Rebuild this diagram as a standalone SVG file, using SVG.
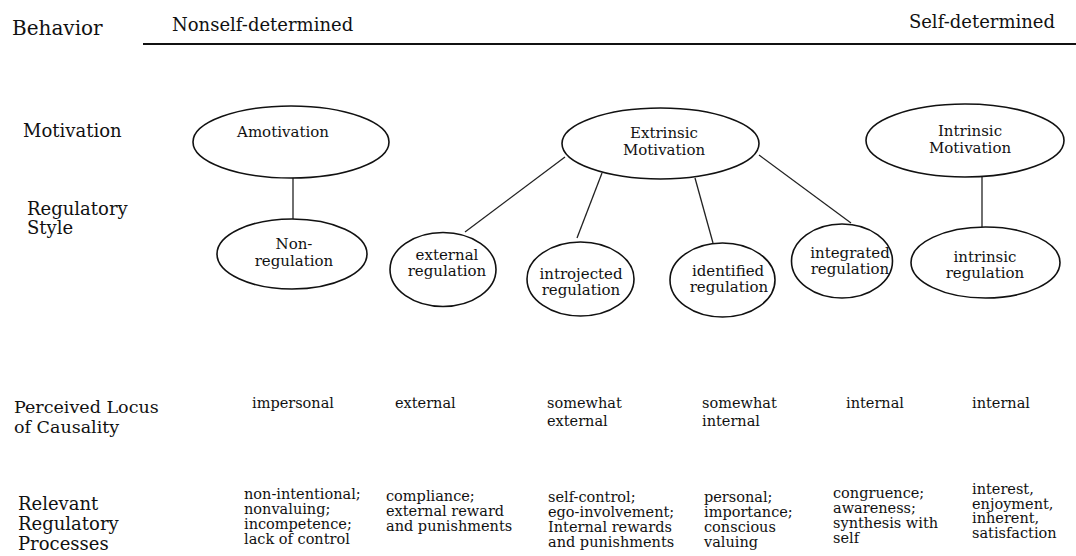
<svg xmlns="http://www.w3.org/2000/svg" width="1076" height="556" viewBox="0 0 1076 556">
<style>
text{font-family:"DejaVu Serif","Liberation Serif",serif;fill:#111}
.lbl{font-size:18px}
.hd{font-size:18px}
.el{font-size:15px;text-anchor:middle}
.bt{font-size:14.5px}
ellipse{fill:#fff;stroke:#111;stroke-width:1.6}
.conn line{stroke:#222;stroke-width:1.3}
</style>
<rect width="1076" height="556" fill="#fff"/>
<g id="header">
<text x="12" y="35" style="font-size:20px">Behavior</text>
<text class="hd" x="172" y="31">Nonself-determined</text>
<text class="hd" x="1055" y="28" text-anchor="end">Self-determined</text>
<line x1="143" y1="44" x2="1076" y2="44" stroke="#111" stroke-width="2"/>
</g>
<g id="row-labels">
<text class="lbl" x="23" y="137">Motivation</text>
<text class="lbl" x="27" y="215">Regulatory</text>
<text class="lbl" x="27" y="234">Style</text>
<text class="lbl" x="14" y="413" style="font-size:17.5px">Perceived Locus</text>
<text class="lbl" x="14" y="433" style="font-size:17.5px">of Causality</text>
<text class="lbl" x="18" y="510">Relevant</text>
<text class="lbl" x="18" y="530">Regulatory</text>
<text class="lbl" x="18" y="550">Processes</text>
</g>
<g class="conn" id="connectors">
<line x1="293" y1="177" x2="293" y2="219"/>
<line x1="565" y1="157" x2="465" y2="232"/>
<line x1="602" y1="173" x2="577" y2="238"/>
<line x1="695" y1="178" x2="713" y2="243"/>
<line x1="759" y1="155" x2="851" y2="223"/>
<line x1="982" y1="177" x2="982" y2="227"/>
</g>
<g id="amotivation">
<ellipse cx="291" cy="142" rx="98" ry="36"/>
<text class="el" x="283" y="137">Amotivation</text>
</g>
<g id="extrinsic">
<ellipse cx="660.5" cy="143.5" rx="98.5" ry="35.5"/>
<text class="el" x="664" y="138">Extrinsic</text>
<text class="el" x="664" y="155">Motivation</text>
</g>
<g id="intrinsic">
<ellipse cx="965" cy="140.5" rx="99" ry="36.5"/>
<text class="el" x="970" y="136">Intrinsic</text>
<text class="el" x="970" y="153">Motivation</text>
</g>
<g id="non-regulation">
<ellipse cx="292" cy="254" rx="75" ry="35"/>
<text class="el" x="294" y="249">Non-</text>
<text class="el" x="294" y="266">regulation</text>
</g>
<g id="external-regulation">
<ellipse cx="443" cy="269.5" rx="53" ry="37"/>
<text class="el" x="447" y="260">external</text>
<text class="el" x="447" y="276">regulation</text>
</g>
<g id="introjected-regulation">
<ellipse cx="580.5" cy="279" rx="53.5" ry="37"/>
<text class="el" x="581" y="279">introjected</text>
<text class="el" x="581" y="295">regulation</text>
</g>
<g id="identified-regulation">
<ellipse cx="722.5" cy="280" rx="52.5" ry="37"/>
<text class="el" x="728" y="276">identified</text>
<text class="el" x="729" y="292">regulation</text>
</g>
<g id="integrated-regulation">
<ellipse cx="842" cy="261" rx="50.5" ry="37"/>
<text class="el" x="850" y="258">integrated</text>
<text class="el" x="850" y="274">regulation</text>
</g>
<g id="intrinsic-regulation">
<ellipse cx="985.5" cy="262.5" rx="74.5" ry="35.5"/>
<text class="el" x="985" y="262">intrinsic</text>
<text class="el" x="985" y="278">regulation</text>
</g>
<g id="locus">
<text class="bt" x="252" y="408">impersonal</text>
<text class="bt" x="395" y="408">external</text>
<text class="bt" x="547" y="408">somewhat</text>
<text class="bt" x="547" y="426">external</text>
<text class="bt" x="702" y="408">somewhat</text>
<text class="bt" x="702" y="426">internal</text>
<text class="bt" x="846" y="408">internal</text>
<text class="bt" x="972" y="408">internal</text>
</g>
<g id="processes">
<text class="bt" x="244" y="499">non-intentional;</text>
<text class="bt" x="244" y="514">nonvaluing;</text>
<text class="bt" x="244" y="529">incompetence;</text>
<text class="bt" x="244" y="544">lack of control</text>
<text class="bt" x="386" y="501">compliance;</text>
<text class="bt" x="386" y="516">external reward</text>
<text class="bt" x="386" y="531">and punishments</text>
<text class="bt" x="548" y="502">self-control;</text>
<text class="bt" x="548" y="517">ego-involvement;</text>
<text class="bt" x="548" y="532">Internal rewards</text>
<text class="bt" x="548" y="547">and punishments</text>
<text class="bt" x="704" y="502">personal;</text>
<text class="bt" x="704" y="517">importance;</text>
<text class="bt" x="704" y="532">conscious</text>
<text class="bt" x="704" y="547">valuing</text>
<text class="bt" x="833" y="498">congruence;</text>
<text class="bt" x="833" y="513">awareness;</text>
<text class="bt" x="833" y="528">synthesis with</text>
<text class="bt" x="833" y="543">self</text>
<text class="bt" x="972" y="494">interest,</text>
<text class="bt" x="972" y="509">enjoyment,</text>
<text class="bt" x="972" y="523">inherent,</text>
<text class="bt" x="972" y="538">satisfaction</text>
</g>
</svg>
